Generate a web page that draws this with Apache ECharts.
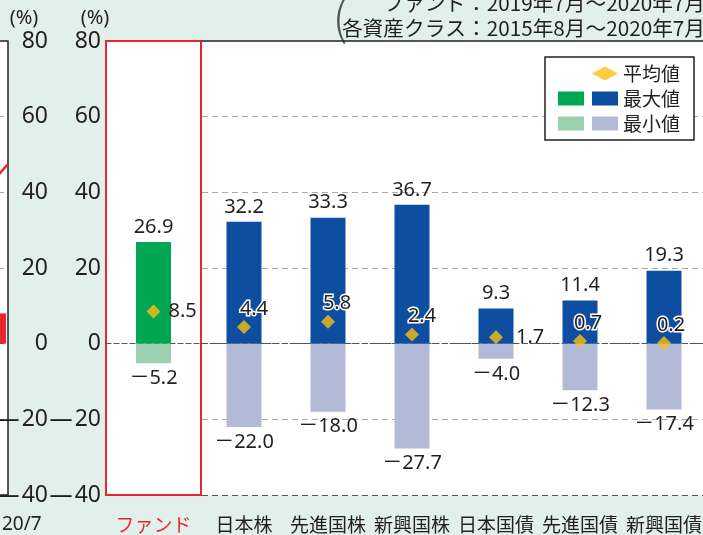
<!DOCTYPE html>
<html>
<head>
<meta charset="utf-8">
<script src="https://cdn.jsdelivr.net/npm/echarts@6/dist/echarts.min.js"></script>
<style>
  html, body { margin: 0; padding: 0; background: #e1f0ea; }
  #chart { width: 703px; height: 535px; }
</style>
</head>
<body>
<div id="chart"></div>
<script>
// ---------- データ ----------
var fundCategory = ['ファンド'];
var fundMax = [26.9];
var fundMin = [-5.2];
var fundAvg = [8.5];

var assetCategories = ['日本株', '先進国株', '新興国株', '日本国債', '先進国債', '新興国債'];
var assetMax = [32.2, 33.3, 36.7, 9.3, 11.4, 19.3];
var assetMin = [-22.0, -18.0, -27.7, -4.0, -12.3, -17.4];
var assetAvg = [4.4, 5.8, 2.4, 1.7, 0.7, 0.2];

// 左側のグラフ（切れている部分）
var leftMonths = ['20/3', '20/4', '20/5', '20/6', '20/7'];
var leftLine = [40, 42, 44, 43, 47.5];
var leftBar = [null, null, null, null, 8.0];

var yMin = -40, yMax = 80, yStep = 20;

// ---------- スタイル ----------
var col = {
  fundMax: '#00a651',
  fundMin: '#9bd1af',
  max: '#0d4ea1',
  min: '#b3bad8',
  avg: '#fdbf10',
  red: '#e8262d',
  text: '#231f20'
};
var numFont = '"Noto Sans", "Noto Sans CJK JP", sans-serif';
var axisFont = '"Liberation Sans Narrow", "Noto Sans", sans-serif';
var jpFont = '"Noto Sans CJK JP", sans-serif';

// 平均値ラベルの位置（日本株～新興国債）
var avgLabelPos = [
  {position: 'top', offset: [10, 2]},
  {position: 'top', offset: [9, 2]},
  {position: 'top', offset: [10, 2]},
  {position: 'right', offset: [10, 0], textBorderWidth: 0},
  {position: 'top', offset: [8, 2]},
  {position: 'top', offset: [7, 2]}
];

function fmt(v) {
  return (v < 0 ? '－' : '') + Math.abs(v).toFixed(1);
}
function tickFmt(v) {
  return v < 0 ? '—\u200a' + Math.abs(v) : String(v);
}

// 分割線：-40, -20, 0, 20, 40, 60, 80
var splitColors = ['#555', '#aaa', '#555', '#aaa', '#aaa', '#aaa', 'rgba(0,0,0,0)'];

var barLabel = {fontSize: 20, color: col.text, fontFamily: numFont};

var chart = echarts.init(document.getElementById('chart'));

var option = {
  backgroundColor: '#e1f0ea',
  animation: false,
  grid: [
    {left: -52, right: 695, top: 41, bottom: 40, outerBoundsMode: 'none', containLabel: false,
      show: true, backgroundColor: '#fff', borderColor: col.text, borderWidth: 1.5},
    {left: 106, width: 95, top: 41, bottom: 40, outerBoundsMode: 'none', containLabel: false,
      show: true, backgroundColor: '#fff', borderColor: col.red, borderWidth: 2},
    {left: 202, right: -3, top: 41, bottom: 40, outerBoundsMode: 'none', containLabel: false,
      show: true, backgroundColor: '#fff', borderWidth: 0}
  ],
  xAxis: [
    {
      gridIndex: 0, type: 'category', data: leftMonths, boundaryGap: true,
      axisLine: {show: false}, axisTick: {show: false},
      axisLabel: {
        interval: 0, margin: 20, align: 'left', fontSize: 19, color: col.text, fontFamily: numFont,
        formatter: function (v, i) { return i === leftMonths.length - 1 ? v : ''; }
      }
    },
    {gridIndex: 0, type: 'category', data: leftMonths, boundaryGap: false, show: false},
    {
      gridIndex: 1, type: 'category', data: fundCategory, position: 'bottom',
      axisLine: {onZero: true, lineStyle: {color: '#555', type: [5, 3], width: 1.2}},
      axisTick: {show: false},
      axisLabel: {margin: 20, fontSize: 19, color: col.red, fontFamily: jpFont}
    },
    {
      gridIndex: 2, type: 'category', data: assetCategories, position: 'bottom',
      axisLine: {onZero: true, lineStyle: {color: '#555', type: [5, 3], width: 1.2}},
      axisTick: {show: false},
      axisLabel: {interval: 0, margin: 20, fontSize: 19, color: col.text, fontFamily: jpFont}
    },
    {
      gridIndex: 2, type: 'category', data: assetCategories, position: 'top',
      axisLine: {onZero: false, lineStyle: {color: col.text, width: 1.5}},
      axisTick: {show: false}, axisLabel: {show: false}
    }
  ],
  yAxis: [
    {
      gridIndex: 0, type: 'value', position: 'right', min: yMin, max: yMax, interval: yStep,
      axisLine: {show: false}, axisTick: {show: false},
      axisLabel: {margin: 40, align: 'right', fontSize: 23, color: col.text, fontFamily: axisFont, formatter: tickFmt},
      splitLine: {show: true, lineStyle: {color: splitColors, type: [6, 4], width: 1.2}}
    },
    {
      gridIndex: 1, type: 'value', position: 'left', min: yMin, max: yMax, interval: yStep,
      axisLine: {show: false}, axisTick: {show: false},
      axisLabel: {margin: 5, fontSize: 23, color: col.text, fontFamily: axisFont, formatter: tickFmt},
      splitLine: {show: false}
    },
    {
      gridIndex: 2, type: 'value', min: yMin, max: yMax, interval: yStep,
      axisLine: {show: false}, axisTick: {show: false}, axisLabel: {show: false},
      splitLine: {show: true, lineStyle: {color: splitColors, type: [6, 4], width: 1.2}}
    }
  ],
  legend: [
    {
      data: [{name: '平均値', icon: 'diamond'}, {name: '最大値', icon: 'rect'}, {name: '最小値', icon: 'rect'}],
      orient: 'vertical', left: 545, top: 57, padding: [7, 14, 7, 47],
      itemWidth: 26, itemHeight: 14, itemGap: 6,
      backgroundColor: '#fff', borderColor: col.text, borderWidth: 1.5, borderRadius: 0,
      selectedMode: false,
      textStyle: {fontSize: 19, color: col.text, fontFamily: jpFont}
    },
    {
      data: [{name: 'ファンド最大値', icon: 'rect'}, {name: 'ファンド最小値', icon: 'rect'}],
      orient: 'vertical', left: 558, top: 89, padding: 0,
      itemWidth: 26, itemHeight: 14, itemGap: 6,
      selectedMode: false,
      formatter: function () { return ' '; },
      textStyle: {fontSize: 19, color: col.text, fontFamily: jpFont}
    }
  ],
  graphic: [
    {type: 'text', x: 24, y: 18, style: {text: '(%)', fontSize: 20, fontFamily: axisFont, fill: col.text, align: 'center', verticalAlign: 'middle'}},
    {type: 'text', x: 95, y: 18, style: {text: '(%)', fontSize: 20, fontFamily: axisFont, fill: col.text, align: 'center', verticalAlign: 'middle'}},
    {type: 'text', x: 340, y: 18, style: {text: '(', fontSize: 46, fontWeight: 200, fontFamily: jpFont, fill: '#555', align: 'center', verticalAlign: 'middle'}},
    {type: 'text', x: 705, y: 3, style: {text: 'ファンド：2019年7月～2020年7月', fontSize: 20.7, fontFamily: jpFont, fill: col.text, align: 'right', verticalAlign: 'middle'}},
    {type: 'text', x: 705, y: 28, style: {text: '各資産クラス：2015年8月～2020年7月', fontSize: 20.7, fontFamily: jpFont, fill: col.text, align: 'right', verticalAlign: 'middle'}}
  ],
  series: [
    // 左側のグラフ
    {
      type: 'bar', xAxisIndex: 0, yAxisIndex: 0, data: leftBar, barWidth: 8,
      itemStyle: {color: col.red}
    },
    {
      type: 'line', xAxisIndex: 1, yAxisIndex: 0, data: leftLine, symbol: 'none',
      lineStyle: {color: col.red, width: 2.5}
    },
    // ファンド
    {
      name: 'ファンド最大値', type: 'bar', xAxisIndex: 2, yAxisIndex: 1, data: fundMax,
      barWidth: 35, barGap: '-100%', itemStyle: {color: col.fundMax},
      label: Object.assign({show: true, position: 'top', distance: 5, formatter: function (p) { return fmt(p.value); }}, barLabel)
    },
    {
      name: 'ファンド最小値', type: 'bar', xAxisIndex: 2, yAxisIndex: 1, data: fundMin,
      barWidth: 35, barGap: '-100%', itemStyle: {color: col.fundMin},
      label: Object.assign({show: true, position: 'bottom', distance: 5, formatter: function (p) { return fmt(p.value); }}, barLabel)
    },
    {
      name: '平均値', type: 'scatter', xAxisIndex: 2, yAxisIndex: 1, data: fundAvg,
      symbol: 'diamond', symbolSize: 14, itemStyle: {color: col.avg}, z: 5,
      label: Object.assign({show: true, position: 'right', distance: 8, textBorderWidth: 0, opacity: 1,
        formatter: function (p) { return fmt(p.value); }}, barLabel)
    },
    // 各資産クラス
    {
      name: '最大値', type: 'bar', xAxisIndex: 3, yAxisIndex: 2, data: assetMax,
      barWidth: 35, barGap: '-100%', itemStyle: {color: col.max},
      label: Object.assign({show: true, position: 'top', distance: 5, formatter: function (p) { return fmt(p.value); }}, barLabel)
    },
    {
      name: '最小値', type: 'bar', xAxisIndex: 3, yAxisIndex: 2, data: assetMin,
      barWidth: 35, barGap: '-100%', itemStyle: {color: col.min},
      label: Object.assign({show: true, position: 'bottom', distance: 5, formatter: function (p) { return fmt(p.value); }}, barLabel)
    },
    {
      name: '平均値', type: 'scatter', xAxisIndex: 3, yAxisIndex: 2,
      data: assetAvg.map(function (v, i) {
        return {value: v, label: avgLabelPos[i]};
      }),
      symbol: 'diamond', symbolSize: 14, itemStyle: {color: col.avg}, z: 5,
      label: Object.assign({
        show: true, distance: 3, textBorderColor: '#fff', textBorderWidth: 3, opacity: 1,
        formatter: function (p) { return fmt(p.value); }
      }, barLabel)
    }
  ]
};

chart.setOption(option);
</script>
</body>
</html>
